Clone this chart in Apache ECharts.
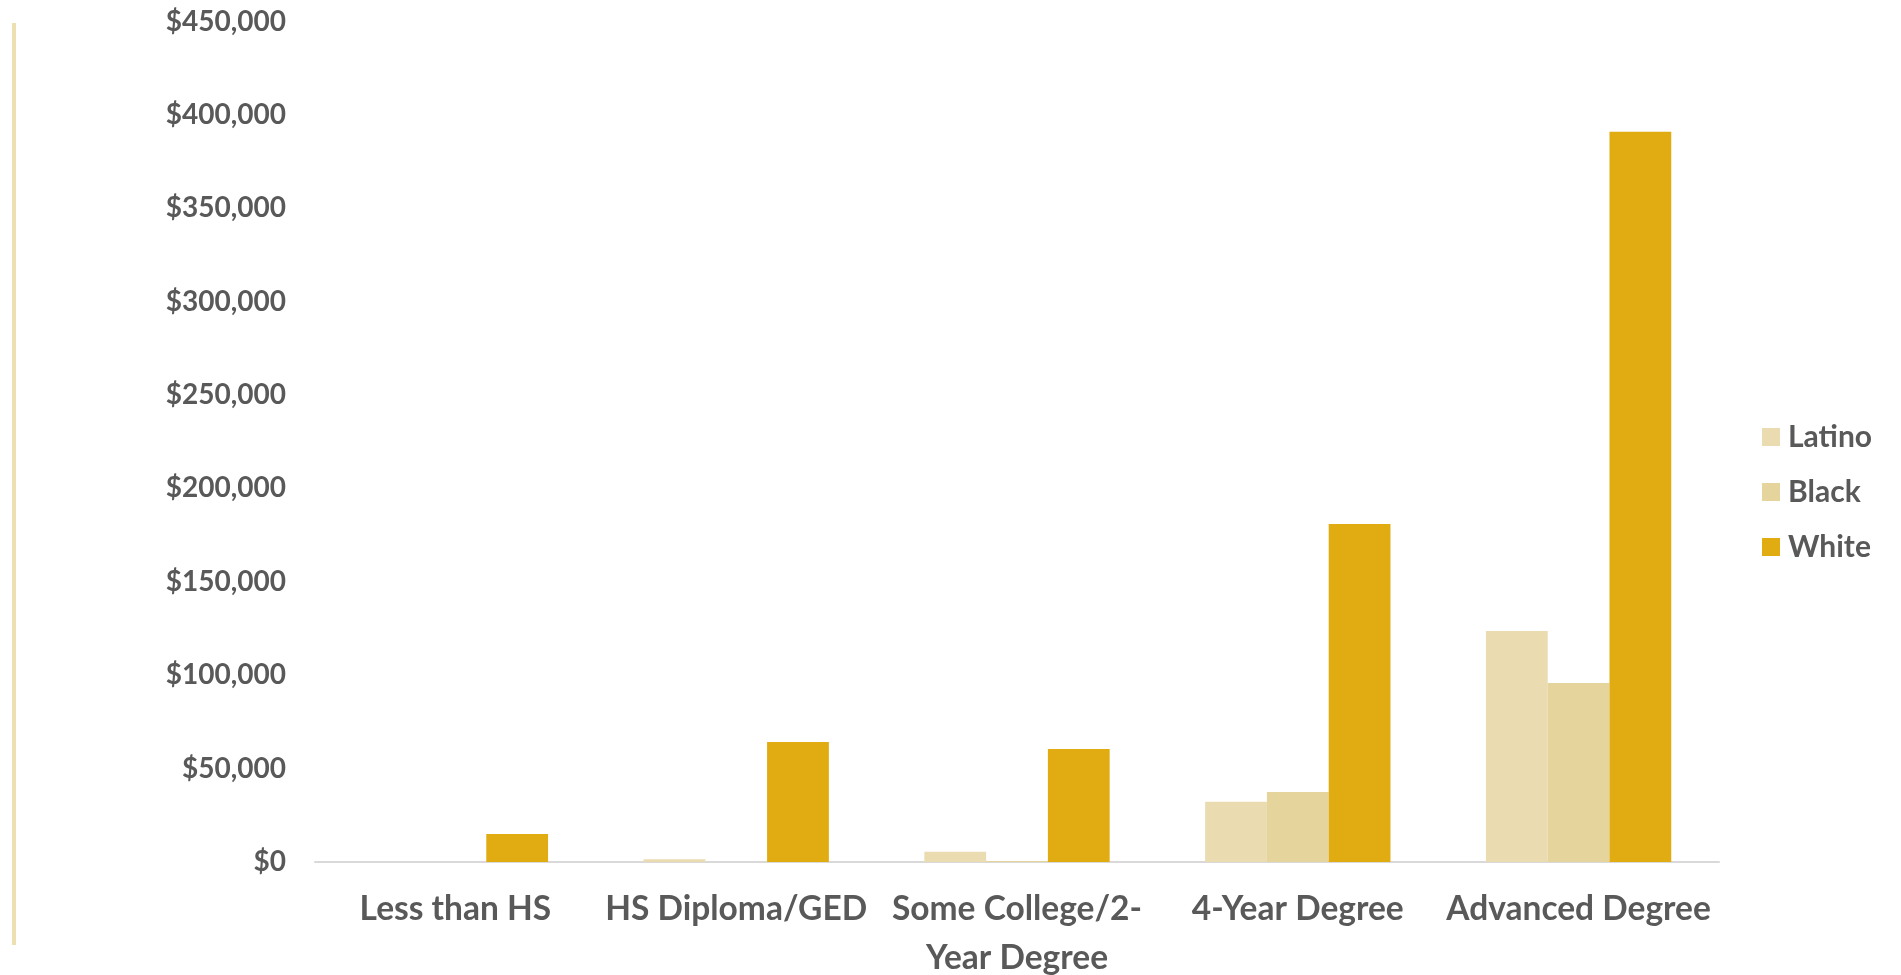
<!DOCTYPE html>
<html>
<head>
<meta charset="utf-8">
<script src="https://cdn.jsdelivr.net/npm/echarts@6/dist/echarts.min.js"></script>
<style>
  html, body { margin: 0; padding: 0; background: #ffffff; }
  #chart { width: 1901px; height: 975px; }
</style>
</head>
<body>
<div id="chart"></div>
<script>
// Median wealth by educational attainment and race
const categories = ['Less than HS', 'HS Diploma/GED', 'Some College/2-Year Degree', '4-Year Degree', 'Advanced Degree'];
const latino = [0, 1500, 5500, 32300, 123700];
const black = [0, 0, 500, 37500, 95800];
const white = [15000, 64200, 60500, 181000, 391000];
const yTicks = { min: 0, max: 450000, interval: 50000 };

const textColor = '#595959';
const fontFamily = 'Lato, "Open Sans", sans-serif';

const chart = echarts.init(document.getElementById('chart'), null, { renderer: 'canvas' });

function barSeries(name, data, color) {
  return {
    name: name,
    type: 'bar',
    data: data,
    barGap: '0%',
    barCategoryGap: '34%',
    itemStyle: { color: color },
    emphasis: { disabled: true }
  };
}

chart.setOption({
  animation: false,
  textStyle: { fontFamily: fontFamily },
  grid: {
    left: 315, right: 182, top: 21.5, bottom: 113,
    containLabel: false,
    outerBoundsMode: 'none'
  },
  legend: {
    orient: 'vertical',
    left: 1757,
    top: 417,
    padding: 5,
    itemWidth: 18,
    itemHeight: 18,
    itemGap: 25,
    icon: 'rect',
    textStyle: {
      color: textColor, fontSize: 30, fontWeight: 'bold', fontFamily: fontFamily,
      lineHeight: 30, padding: [0, 0, 0, 3]
    },
    data: ['Latino', 'Black', 'White']
  },
  xAxis: {
    type: 'category',
    data: categories,
    axisLine: { lineStyle: { color: '#d9d9d9', width: 2 } },
    axisTick: { show: false },
    axisLabel: {
      color: textColor,
      fontSize: 33.5,
      fontWeight: 'bold',
      fontFamily: fontFamily,
      lineHeight: 49,
      margin: 23,
      interval: 0,
      formatter: v => v.replace('2-Year', '2-\nYear')
    }
  },
  yAxis: {
    type: 'value',
    min: yTicks.min,
    max: yTicks.max,
    interval: yTicks.interval,
    axisLine: { show: false },
    axisTick: { show: false },
    splitLine: { show: false },
    axisLabel: {
      color: textColor,
      fontSize: 28,
      fontWeight: 'bold',
      fontFamily: fontFamily,
      margin: 29,
      formatter: v => '$' + v.toLocaleString('en-US')
    }
  },
  graphic: [{
    type: 'line',
    shape: { x1: 14, y1: 23, x2: 14, y2: 945 },
    style: { stroke: '#eedfb2', lineWidth: 4 },
    silent: true
  }],
  series: [
    barSeries('Latino', latino, '#eadcb0'),
    barSeries('Black', black, '#e6d49d'),
    barSeries('White', white, '#e0ac11')
  ]
});
</script>
</body>
</html>
